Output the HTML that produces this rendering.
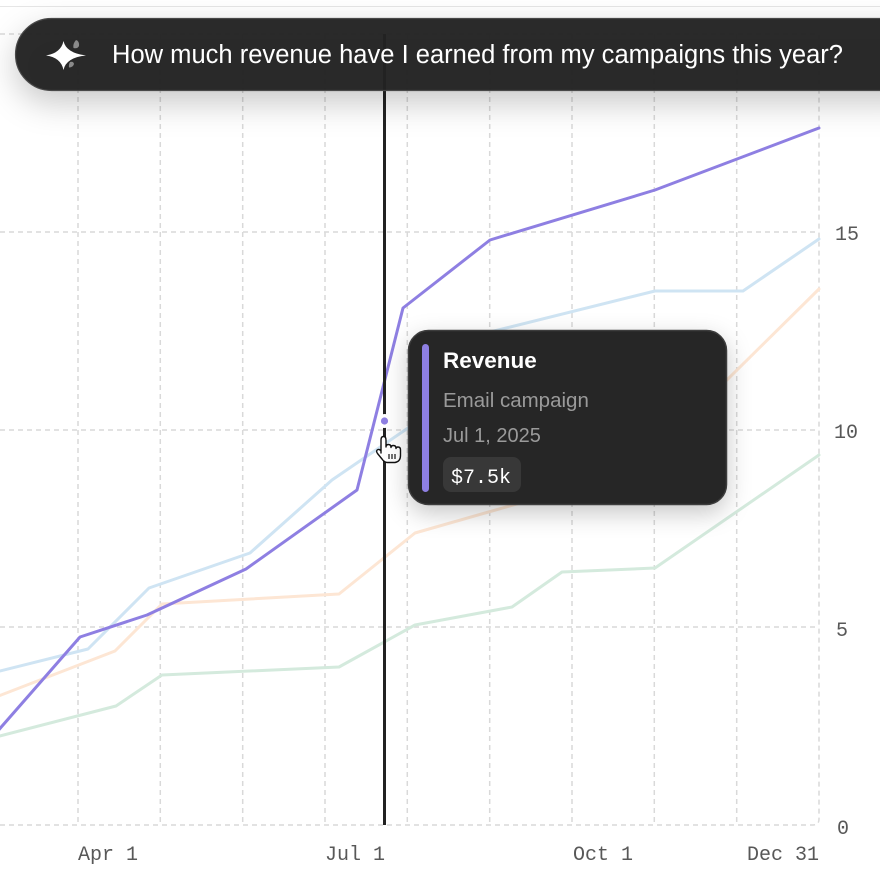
<!DOCTYPE html>
<html>
<head>
<meta charset="utf-8">
<style>
  html,body{margin:0;padding:0;background:#fff;}
  body{width:880px;height:880px;overflow:hidden;}
  svg{display:block;}
</style>
</head>
<body>
<svg width="880" height="880" viewBox="0 0 880 880" xmlns="http://www.w3.org/2000/svg">
  <defs>
    <filter id="barShadow" x="-10%" y="-60%" width="130%" height="300%">
      <feDropShadow dx="0" dy="12" stdDeviation="16" flood-color="#000" flood-opacity="0.22"/>
    </filter>
    <filter id="tipShadow" x="-20%" y="-30%" width="140%" height="170%">
      <feDropShadow dx="0" dy="8" stdDeviation="12" flood-color="#000" flood-opacity="0.22"/>
    </filter>
  </defs>

  <rect x="0" y="0" width="880" height="880" fill="#ffffff"/>
  <line x1="0" y1="6.5" x2="880" y2="6.5" stroke="#e6e6e6" stroke-width="1"/>

  <!-- grid -->
  <g stroke="#d9d9d9" stroke-width="1.5" stroke-dasharray="5 4" fill="none">
    <line x1="0" y1="34" x2="819" y2="34"/>
    <line x1="0" y1="232" x2="819" y2="232"/>
    <line x1="0" y1="430" x2="819" y2="430"/>
    <line x1="0" y1="627" x2="819" y2="627"/>
    <path d="M0 825 L813 825 Q819 825 819 819 L819 34"/>
    <line x1="78" y1="34" x2="78" y2="825"/>
    <line x1="160.3" y1="34" x2="160.3" y2="825"/>
    <line x1="242.7" y1="34" x2="242.7" y2="825"/>
    <line x1="325" y1="34" x2="325" y2="825"/>
    <line x1="407.3" y1="34" x2="407.3" y2="825"/>
    <line x1="489.7" y1="34" x2="489.7" y2="825"/>
    <line x1="572" y1="34" x2="572" y2="825"/>
    <line x1="654.3" y1="34" x2="654.3" y2="825"/>
    <line x1="736.7" y1="34" x2="736.7" y2="825"/>
  </g>

  <!-- pale series -->
  <g fill="none" stroke-width="3" stroke-linejoin="round" stroke-linecap="round">
    <polyline stroke="#d4eadd" points="-4,737 116,706 162,675 339,667 415,625 512,607 562,572 655,568 819,455"/>
    <polyline stroke="#fde6d4" points="-4,697 115,651 162,604 339,594 415,533 513,505 573,488 655,451 819,289"/>
    <polyline stroke="#cfe4f3" points="-4,672 88,649 149,588 250,553 332,480 408,428 490,332 655,291 743,291 819,239"/>
    <polyline stroke="#8e7fe2" points="-4,733 80,637 147,615 246,569 357,490 403,308 490,240 655,190 819,128"/>
  </g>

  <!-- cursor vertical line -->
  <line x1="384.5" y1="34" x2="384.5" y2="825" stroke="#222" stroke-width="3"/>
  <circle cx="384.5" cy="421" r="7" fill="#ffffff"/>
  <circle cx="384.5" cy="421" r="3.6" fill="#8e7fe2"/>

  <!-- hand cursor -->
  <g transform="translate(-1,0)">
    <path d="M382,453 L382,440 Q382,436.5 384.5,436.5 Q387,436.5 387,440 L387,447 Q387,444.5 389.5,444.5 Q392,444.5 392,447.5 Q392,445.5 394.5,445.5 Q397,445.5 397,448.5 Q397,447 399,447 Q401.5,447 401.5,450 L401.5,455.5 Q401.5,461.5 396,462.5 L388,462.5 Q385,462 383,459 L378.5,453.5 Q376.5,450.5 379,449.5 Q380.8,449 382,451 Z" fill="#fff" stroke="#111" stroke-width="1.4" stroke-linejoin="round"/>
    <line x1="390" y1="454" x2="390" y2="459" stroke="#111" stroke-width="1.2"/>
    <line x1="393" y1="454" x2="393" y2="459" stroke="#111" stroke-width="1.2"/>
    <line x1="396" y1="454" x2="396" y2="459" stroke="#111" stroke-width="1.2"/>
  </g>

  <!-- axis labels -->
  <g font-family="'Liberation Mono', 'DejaVu Sans Mono', monospace" font-size="20" fill="#585858">
    <text x="78" y="860">Apr 1</text>
    <text x="325" y="860">Jul 1</text>
    <text x="573" y="860">Oct 1</text>
    <text x="819" y="860" text-anchor="end">Dec 31</text>
    <text x="835" y="240">15</text>
    <text x="834" y="438">10</text>
    <text x="836" y="636">5</text>
    <text x="837" y="834">0</text>
  </g>

  <!-- tooltip -->
  <g filter="url(#tipShadow)">
    <rect x="408.5" y="330.5" width="318" height="174" rx="20" ry="20" fill="#252525" stroke="#3e3e3e" stroke-width="1.5"/>
  </g>
  <rect x="422" y="344" width="7" height="148" rx="3.5" fill="#8e7fe2"/>
  <text x="443" y="368" font-family="'Liberation Sans', Arial, sans-serif" font-weight="bold" font-size="22.5" fill="#ffffff">Revenue</text>
  <text x="443" y="407" font-family="'Liberation Sans', Arial, sans-serif" font-size="20.5" fill="#9a9a9a">Email campaign</text>
  <text x="443" y="442" font-family="'Liberation Sans', Arial, sans-serif" font-size="20" fill="#9a9a9a">Jul 1, 2025</text>
  <rect x="443" y="457" width="78" height="35" rx="8" fill="#383838"/>
  <text x="451" y="483" font-family="'Liberation Mono', 'DejaVu Sans Mono', monospace" font-size="20" fill="#ffffff">$7.5k</text>

  <!-- top question bar -->
  <g filter="url(#barShadow)">
    <rect x="15.5" y="18.5" width="920" height="72" rx="36" ry="36" fill="#222222" fill-opacity="0.96" stroke="#4a4a4a" stroke-width="1.2"/>
  </g>
  <!-- sparkle icon -->
  <path d="M63.5,41 Q66,53 86,55.5 Q66,57.5 63.5,70 Q61,57.5 46,55.5 Q61,53 63.5,41 Z" fill="#ffffff"/>
  <path d="M76,40 Q79.5,41 79,46 Q77.5,49 73.5,48 Q72.5,44 76,40 Z" fill="#8a8a8a"/>
  <path d="M70,62 Q73.5,61 74,64 Q73,67.5 69,67.5 Q68.5,64.5 70,62 Z" fill="#8a8a8a"/>
  <text x="112" y="63" font-family="'Liberation Sans', Arial, sans-serif" font-size="25.5" fill="#ffffff" textLength="731" lengthAdjust="spacingAndGlyphs">How much revenue have I earned from my campaigns this year?</text>
</svg>
</body>
</html>
